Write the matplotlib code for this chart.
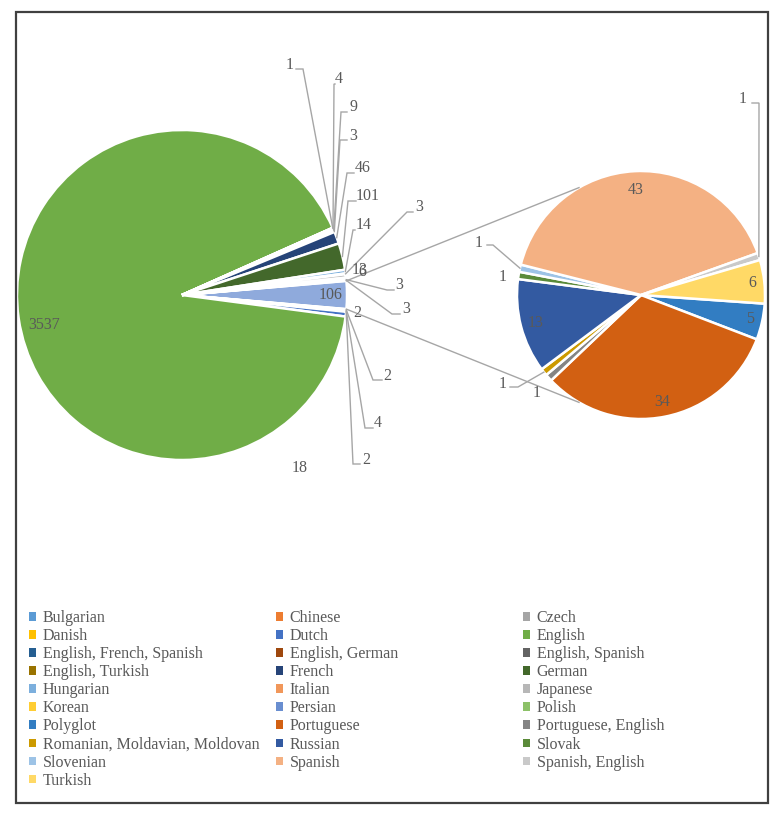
import numpy as np
import matplotlib.pyplot as plt
from matplotlib.patches import Patch, Rectangle

W, H = 782, 819

# -------------------------------------------------------
# DATA
# -------------------------------------------------------
main_names = ["Bulgarian", "Chinese", "Czech", "Danish", "Dutch", "English",
              "English, French, Spanish", "English, German", "English, Spanish",
              "English, Turkish", "French", "German", "Hungarian", "Italian",
              "Japanese", "Korean", "Persian", "Polish"]
main_values = [2, 2, 4, 2, 18, 3537, 1, 4, 9, 3, 46, 101, 14, 3, 13, 6, 3, 3]

sub_names = ["Polyglot", "Portuguese", "Portuguese, English",
             "Romanian, Moldavian, Moldovan", "Russian", "Slovak", "Slovenian",
             "Spanish", "Spanish, English", "Turkish"]
sub_values = [5, 34, 1, 1, 13, 1, 1, 43, 1, 6]

main_colors = ["#5B9BD5", "#ED7D31", "#A5A5A5", "#FFC000", "#4472C4", "#70AD47",
               "#255E91", "#9E480E", "#636363", "#997300", "#264478", "#43682B",
               "#7CAFDD", "#F1975A", "#B7B7B7", "#FFCD33", "#698ED0", "#8CC168"]
sub_colors = ["#327DC2", "#D26012", "#848484", "#CC9A00", "#335AA1", "#5A8A39",
              "#9DC3E6", "#F4B183", "#C9C9C9", "#FFD966"]
other_color = "#8FAADC"

TEXT = "#595959"
LEAD = "#A6A6A6"
FONT = "Liberation Serif"
FS = 11.5

# -------------------------------------------------------
# LAYOUT (image pixel coords, y down)
# -------------------------------------------------------
main_c, main_r = (182, 295), 165
sub_c, sub_r = (641, 295), 124

# ('rad', rfrac, dtheta) | ('txt', (x, y)) | ('lead', (x, y), elbow, seg_end)
main_lbl = {
    0: ("txt", (357, 313)),
    1: ("lead", (387, 376), (373, 380), (382, 380)),
    2: ("lead", (378, 423), (365, 428), (373, 428)),
    3: ("lead", (366, 460), (353, 464), (360, 464)),
    4: ("txt", (300, 468)),
    5: ("rad", 0.856, 4),
    6: ("lead", (290, 65), (303, 69), (296, 69)),
    7: ("lead", (339, 79), (334, 84), (335, 84)),
    8: ("lead", (354, 107), (341, 112), (347, 112)),
    9: ("lead", (353, 136), (340, 140), (347, 140)),
    10: ("lead", (363, 168), (347, 173), (354, 173)),
    11: ("lead", (368, 196), (348, 201), (356, 201)),
    12: ("lead", (364, 225), (353, 230), (355, 230)),
    13: ("lead", (419, 207), (407, 212), (413, 212)),
    14: ("txt", (360, 270)),
    15: ("txt", (362, 272)),
    16: ("lead", (399, 285), (387, 290), (394, 290)),
    17: ("lead", (406, 309), (392, 314), (400, 314)),
}
other_lbl = ("rad", 0.9, 0)
sub_lbl = {
    0: ("rad", 0.9, 0),
    1: ("rad", 0.876, 0),
    2: ("txt", (537, 393)),
    3: ("lead", (503, 384), (518, 387), (510, 387)),
    4: ("rad", 0.88, 0),
    5: ("txt", (503, 277)),
    6: ("lead", (479, 243), (493, 245), (487, 245)),
    7: ("rad", 0.85, 0),
    8: ("lead", (743, 99), (759, 103), (752, 103)),
    9: ("rad", 0.9, 0),
}


def px(x, y):
    return x, H - y


def polar(c, r, ang):
    cx, cy = px(*c)
    a = np.deg2rad(ang)
    return cx + r * np.cos(a), cy + r * np.sin(a)


def put_label(ax, wedge, c, r, value, spec):
    mid = 0.5 * (wedge.theta1 + wedge.theta2)
    kw = dict(color=TEXT, fontsize=FS, family=FONT, ha="center", va="center")
    if spec[0] == "rad":
        x, y = polar(c, r * spec[1], mid + spec[2])
        ax.text(x, y, str(value), **kw)
        return
    ax.text(*px(*spec[1]), str(value), **kw)
    if spec[0] == "lead":
        a0 = polar(c, r, mid)
        e = px(*spec[2])
        s = px(*spec[3])
        ax.plot([a0[0], e[0], s[0]], [a0[1], e[1], s[1]], color=LEAD, lw=1,
                solid_joinstyle="miter")


fig = plt.figure(figsize=(W / 100, H / 100), dpi=100)
ax = fig.add_axes([0, 0, 1, 1])

other_value = sum(sub_values)
vals_main = [other_value] + main_values
cols_main = [other_color] + main_colors
start_main = other_value / sum(vals_main) * 180

wedges_main, _ = ax.pie(vals_main, colors=cols_main, center=px(*main_c), radius=main_r,
                        startangle=start_main, counterclock=False,
                        wedgeprops=dict(edgecolor="white", linewidth=1.8))
wedges_sub, _ = ax.pie(sub_values, colors=sub_colors, center=px(*sub_c), radius=sub_r,
                       startangle=-4, counterclock=False,
                       wedgeprops=dict(edgecolor="white", linewidth=1.8))

# labels
put_label(ax, wedges_main[0], main_c, main_r, other_value, other_lbl)
for i, v in enumerate(main_values):
    put_label(ax, wedges_main[i + 1], main_c, main_r, v, main_lbl[i])
for i, v in enumerate(sub_values):
    put_label(ax, wedges_sub[i], sub_c, sub_r, v, sub_lbl[i])

# connector lines between the "other" slice and the secondary pie
ow = wedges_main[0]
for a_main, a_sub in [(ow.theta2, 120), (ow.theta1, 240)]:
    p0 = polar(main_c, main_r, a_main)
    p1 = polar(sub_c, sub_r, a_sub)
    ax.plot([p0[0], p1[0]], [p0[1], p1[1]], color=LEAD, lw=1)

ax.set_xlim(0, W)
ax.set_ylim(0, H)
ax.set_aspect("equal")
ax.axis("off")

# legend: three columns, row-major order like Excel
all_names = main_names + sub_names
all_colors = main_colors + sub_colors
col_x = [29, 276, 523]
for k in range(3):
    handles = [Patch(facecolor=all_colors[i], edgecolor="none", label=all_names[i])
               for i in range(k, len(all_names), 3)]
    fig.legend(handles=handles, loc="upper left",
               bbox_to_anchor=(col_x[k] / W, 1 - 610 / H), frameon=False,
               prop=dict(family=FONT, size=FS), labelcolor=TEXT,
               handlelength=0.45, handleheight=0.45, handletextpad=0.4,
               labelspacing=0.13, borderpad=0, borderaxespad=0)

# outer frame
fig.patches.append(Rectangle((16 / W, 1 - 803 / H), 752 / W, 791 / H,
                             transform=fig.transFigure, fill=False,
                             edgecolor="#404040", linewidth=1.6))

fig.savefig("out.png", dpi=100)
